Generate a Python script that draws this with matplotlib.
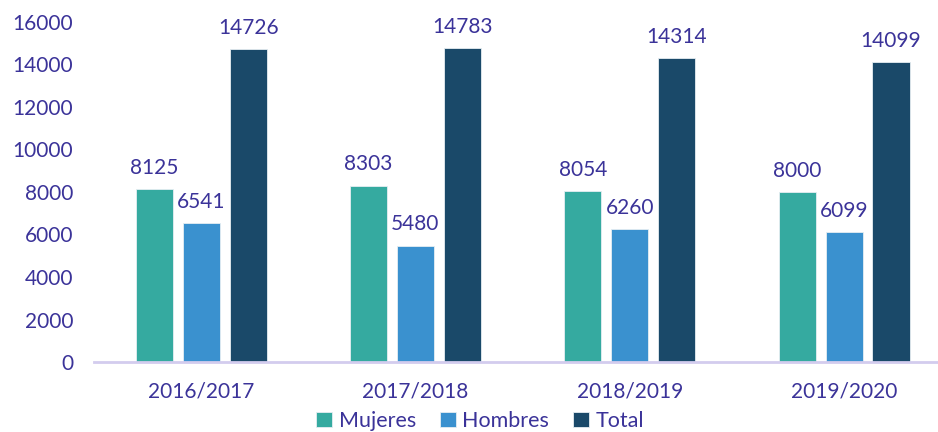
#!/usr/bin/env python3
"""Grouped bars: Mujeres / Hombres / Total per academic year."""

import matplotlib

matplotlib.use("Agg")
import matplotlib.pyplot as plt
import numpy as np

years = ["2016/2017", "2017/2018", "2018/2019", "2019/2020"]
mujeres = [8125, 8303, 8054, 8000]
hombres = [6541, 5480, 6260, 6099]
total = [14726, 14783, 14314, 14099]

series = [("Mujeres", mujeres, "#35AAA0"), ("Hombres", hombres, "#3A91CF"), ("Total", total, "#1A4969")]
text_color = "#3B3399"

plt.rcParams["font.family"] = ["Lato", "DejaVu Sans"]

fig = plt.figure(figsize=(9.38, 4.32), dpi=100)
ax = fig.add_axes([94 / 938, 70 / 432, (938 - 94) / 938, 340 / 432])

x = np.arange(len(years))
width = 0.173
step = 0.219
for i, (name, values, color) in enumerate(series):
    pos = x + (i - 1) * step
    bars = ax.bar(pos, values, width, color=color, label=name, edgecolor="#E6EEF2", linewidth=0.6)
    for bar, v in zip(bars, values):
        ax.annotate(str(v), (bar.get_x() + bar.get_width() / 2, v), xytext=(0, 8),
                    textcoords="offset points", ha="center", va="bottom",
                    fontsize=15, color=text_color)

ax.set_xlim(-0.5, -0.5 + (938 - 94) / 214.3)
ax.set_ylim(0, 16000)
ax.set_yticks(range(0, 16001, 2000))
ax.set_xticks(x)
ax.set_xticklabels(years)
ax.tick_params(axis="both", length=0, labelsize=15, labelcolor=text_color)
ax.tick_params(axis="y", pad=15)
ax.tick_params(axis="x", pad=14)
for side in ("top", "right", "left"):
    ax.spines[side].set_visible(False)
ax.spines["bottom"].set_color("#D3CCEE")
ax.spines["bottom"].set_linewidth(2)

leg = ax.legend(loc="center", bbox_to_anchor=(480 / 938, 11 / 432), bbox_transform=fig.transFigure,
                ncol=3, frameon=False, fontsize=15.5, handlelength=0.75, handleheight=0.75,
                handletextpad=0.3, columnspacing=1.1)
for t in leg.get_texts():
    t.set_color(text_color)

fig.savefig("out.png", dpi=100)
